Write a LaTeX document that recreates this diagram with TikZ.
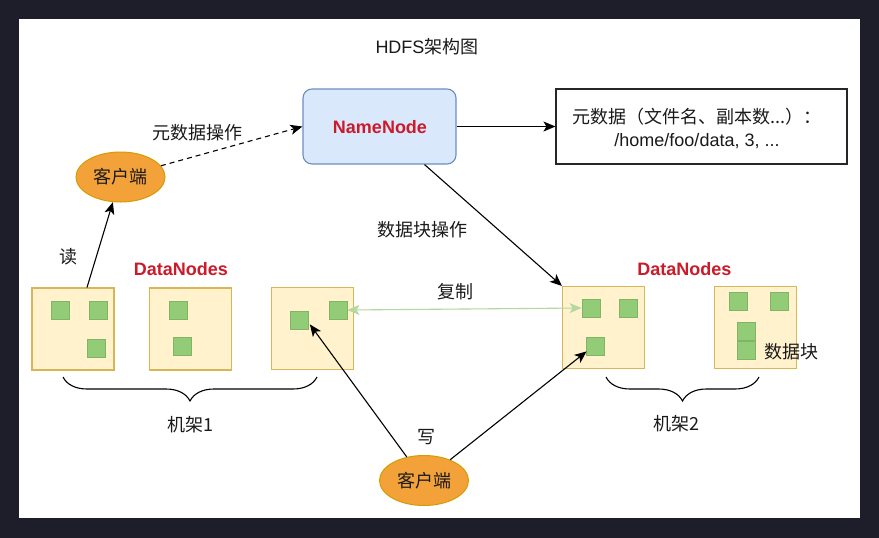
\documentclass[tikz,border=0pt]{standalone}
\usepackage{fontspec}
\setmainfont{Liberation Sans}
\newfontfamily\cjk{Noto Sans CJK SC}
\usetikzlibrary{arrows.meta,decorations.pathreplacing,shapes.geometric,calc}
\definecolor{framecol}{HTML}{1E1E2A}
\definecolor{nnfill}{HTML}{DAE8FC}
\definecolor{nndraw}{HTML}{6C8EBF}
\definecolor{dnfill}{HTML}{FFF2CC}
\definecolor{dndraw}{HTML}{D6B656}
\definecolor{blkfill}{HTML}{93CC76}
\definecolor{blkdraw}{HTML}{82B366}
\definecolor{orfill}{HTML}{F3A23A}
\definecolor{ordraw}{HTML}{D79B00}
\definecolor{redtxt}{HTML}{CC1A2A}
\definecolor{repl}{HTML}{B5D7A0}
\definecolor{txt}{HTML}{1A1A1A}
\tikzset{
  lbl/.style={text=txt,font=\fontsize{18}{21}\selectfont\cjk,inner sep=0pt},
  redlbl/.style={text=redtxt,font=\fontsize{18}{21}\selectfont\bfseries,inner sep=0pt},
  dnbox/.style={draw=dndraw,fill=dnfill,line width=1.1pt,minimum width=82pt,minimum height=82pt,inner sep=0pt},
  blk/.style={draw=blkdraw,fill=blkfill,line width=0.8pt,minimum width=18pt,minimum height=18pt,inner sep=0pt},
  client/.style={ellipse,draw=ordraw,fill=orfill,line width=1pt,minimum width=89pt,minimum height=50pt,inner sep=0pt,text=txt,font=\fontsize{18}{21}\selectfont\cjk},
  tip/.style={Stealth[length=12pt,width=10pt,inset=3pt]},
  conn/.style={draw=black,line width=1.1pt,-{Stealth[length=12pt,width=10pt,inset=3pt]}},
  bracestyle/.style={draw=black,line width=1.1pt,decorate,decoration={brace,mirror,amplitude=24pt}}
}
\begin{document}
\begin{tikzpicture}[x=1pt,y=-1pt]
\useasboundingbox (0,0) rectangle (879,538);
\fill[framecol] (0,0) rectangle (879,538);
\fill[white] (19,19) rectangle (860,518);

% title
\node[lbl] (title) at (427,47) {\rmfamily HDFS\cjk 架构图};

% NameNode and metadata
\node[draw=nndraw,fill=nnfill,line width=1.1pt,rounded corners=9pt,minimum width=153pt,minimum height=75pt,inner sep=0pt] (nn) at (379.5,126.5) {};
\node[redlbl] (nnt) at (380,127) {NameNode};
\node[draw=black!85,line width=1.1pt,minimum width=291pt,minimum height=75pt,inner sep=0pt] (meta) at (701.5,126.5) {};
\node[lbl,align=center,font=\fontsize{18}{23}\selectfont\cjk] (metat) at (697,128) {元数据（文件名、副本数...）：\\{\rmfamily /home/foo/data, 3, ...}};

% clients
\node[client] (ct) at (120.5,177) {客户端};
\node[client] (cb) at (424,480.5) {客户端};

% DataNode boxes
\node[dnbox] (b1) at (73,329) {};
\node[dnbox] (b2) at (190.5,329) {};
\node[dnbox] (b3) at (312.5,328.5) {};
\node[dnbox] (b4) at (603.5,327.5) {};
\node[dnbox] (b5) at (755.5,327.5) {};

% blocks
\node[blk] (s1a) at (60,310) {};
\node[blk] (s1b) at (98,310) {};
\node[blk] (s1c) at (96,348) {};
\node[blk] (s2a) at (178,310) {};
\node[blk] (s2b) at (182,346) {};
\node[blk] (s3a) at (299.5,320) {};
\node[blk] (s3b) at (338,310) {};
\node[blk] (s4a) at (591,308) {};
\node[blk] (s4b) at (628.5,308) {};
\node[blk] (s4c) at (595,346) {};
\node[blk] (s5a) at (738,301.5) {};
\node[blk] (s5b) at (779,301.5) {};
\node[blk] (s5c) at (746,331.5) {};
\node[blk] (s5d) at (746,350.5) {};

% labels
\node[redlbl] (dnl) at (181,269) {DataNodes};
\node[redlbl] (dnr) at (684.5,269) {DataNodes};
\node[lbl] (lmeta) at (197,133) {元数据操作};
\node[lbl] (lread) at (68,257) {读};
\node[lbl] (lblk) at (422,230) {数据块操作};
\node[lbl] (lrep) at (455,292) {复制};
\node[lbl] (lwrite) at (426,437) {写};
\node[lbl] (lrack1) at (190,425) {机架1};
\node[lbl] (lrack2) at (676,424) {机架2};
\node[lbl] (lblock) at (791,352) {数据块};

% connectors
\draw[conn,dash pattern=on 5pt off 4pt] (ct) -- (nn.west);
\draw[conn] ($(b1.north)+(14,0)$) -- (ct);
\draw[conn] (nn) -- (meta);
\draw[conn] ($(nn.south)+(45,0)$) -- (b4.north west);
\draw[draw=repl,line width=1.1pt,{Stealth[length=12pt,width=10pt,inset=3pt]}-{Stealth[length=12pt,width=10pt,inset=3pt]}] (s3b.east) -- (s4a.west);
\draw[conn] (cb) -- ($(s3a.south east)+(1,-5)$);
\draw[conn] (cb) -- ($(s4c.south west)+(1,-4)$);

% braces
\coordinate (r1a) at (63,377);
\coordinate (r1b) at (317,377);
\coordinate (r2a) at (606,377);
\coordinate (r2b) at (759,377);
\draw[bracestyle] (r1a) -- (r1b);
\draw[bracestyle] (r2a) -- (r2b);
\end{tikzpicture}
\end{document}
